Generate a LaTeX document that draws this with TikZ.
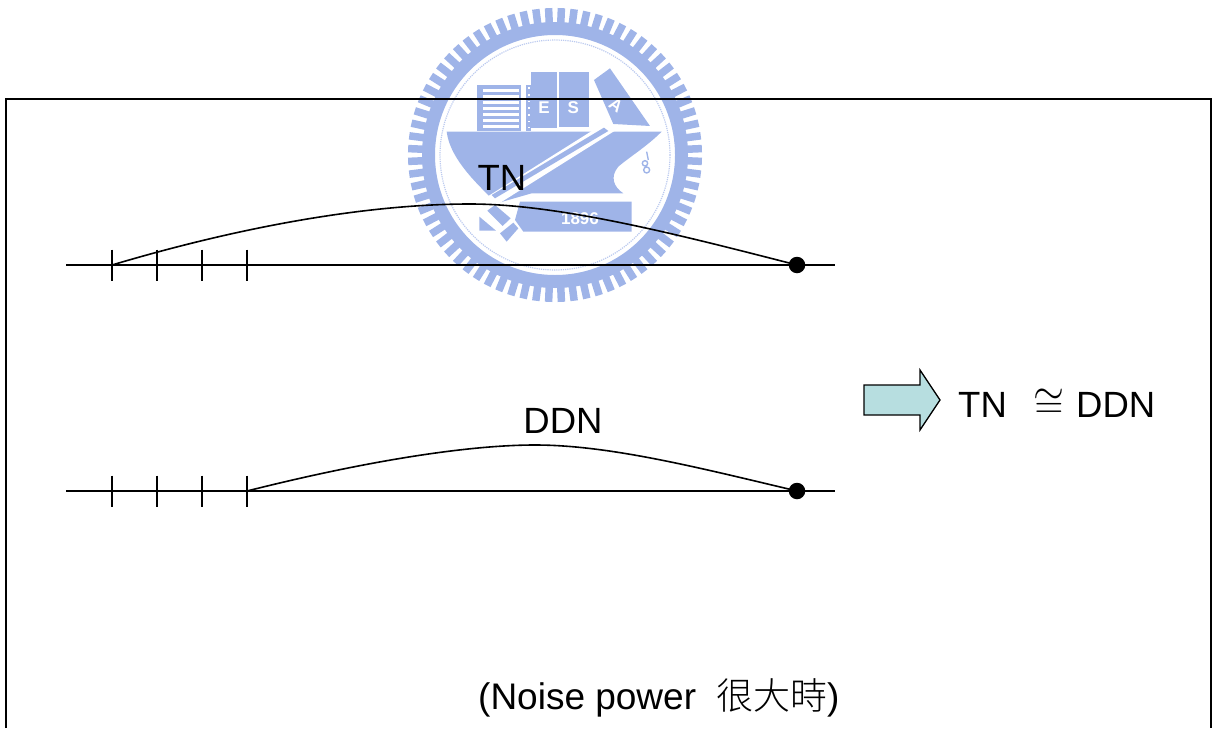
\documentclass[tikz,border=0pt]{standalone}
\usepackage{fontspec}
\usetikzlibrary{calc}
\setmainfont{Liberation Sans}
\newfontfamily\cjk{Noto Sans CJK TC Light}
\definecolor{logoblue}{HTML}{9FB4E8}
\definecolor{arrowfill}{HTML}{B7DEE0}
\tikzset{
  wire/.style={black,line width=1.6pt},
  tick/.style={black,line width=1.3pt},
  lbl/.style={font=\fontsize{36.5}{40}\selectfont,inner sep=0pt,text=black},
  notelbl/.style={font=\fontsize{37}{40}\selectfont,inner sep=0pt,text=black},
  dotnode/.style={circle,fill=black,draw=none,minimum size=16.5pt,inner sep=0pt},
  lg/.style={fill=logoblue,draw=none},
  lgw/.style={fill=white,draw=none},
  lgtext/.style={font=\bfseries\fontsize{17}{17}\selectfont,text=white,inner sep=0pt}
}
\begin{document}
\begin{tikzpicture}[x=1pt,y=-1pt]
\useasboundingbox (0,0) rectangle (1215,728);
% emblem
\foreach \a in {0,5,...,355}{
  \draw[logoblue,line width=7.5pt] ($(555,155)+(\a+2.5:125)$) -- ($(555,155)+(\a+2.5:147)$);
}
\fill[logoblue,even odd rule] (555,155) circle[radius=133] (555,155) circle[radius=120];
\draw[logoblue!70,line width=1.2pt,densely dotted] (555,155) circle[radius=115];
\begin{scope}[shift={(400,0)},x=0.3333pt,y=-0.3333pt]
  % books
  \fill[lg] (230,255) rectangle (362,392);
  \foreach \s in {266,284,302,320,338,356,374}{\fill[lgw] (250,\s) rectangle (358,\s+10);}
  \fill[lg] (378,255) rectangle (392,392);
  \foreach \s in {262,282,302,322,342,362,380}{\fill[lgw] (383,\s) rectangle (389,\s+5);}
  \fill[lg] (392,215) rectangle (470,385);
  \fill[lg] (477,215) rectangle (567,382);
  \fill[lg] (582,240) -- (630,205) -- (750,378) -- (640,372) -- cycle;
  % hull
  \fill[lg] (140,395) -- (785,395) .. controls (740,440) and (690,470) .. (655,500)
     .. controls (630,530) and (640,560) .. (670,580) -- (395,580) -- (290,610)
     .. controls (240,560) and (150,480) .. cycle;
  % diagonal strip
  \fill[lgw] (620,365) -- (645,392) -- (290,615) -- (262,590) -- cycle;
  \fill[lg] (612,383) -- (625,393) -- (285,595) -- (275,585) -- cycle;
  % base plate
  \fill[lg] (360,605) -- (695,605) -- (695,695) -- (370,695) -- (345,660) -- cycle;
  \fill[lg] (238,650) -- (288,692) -- (238,692) -- cycle;
  \fill[lg] (300,700) -- (340,668) -- (355,685) -- (320,725) -- cycle;
  \fill[lg] (262,632) -- (285,615) -- (332,655) -- (308,678) -- cycle;
  % hook
  \draw[logoblue,line width=1.4pt] (740,455) -- (745,480) (735,490) circle[radius=8] (740,510) circle[radius=9];
  \node[lgtext] (letterE) at (432,322) {E};
  \node[lgtext] (letterS) at (520,322) {S};
  \node[lgtext,rotate=-35] (letterA) at (648,315) {A};
  \node[lgtext] (year) at (540,655) {1896};
\end{scope}
% frame
\draw[wire] (6,728) -- (6,99) -- (1211,99) -- (1211,728);
% first timeline
\coordinate (a0) at (66,265);
\coordinate (a1) at (835,265);
\coordinate (t1) at (112,265);
\coordinate (t2) at (157,265);
\coordinate (t3) at (202,265);
\coordinate (t4) at (247,265);
\node[dotnode] (d1) at (797,265) {};
\draw[wire] (a0) -- (a1);
\foreach \n in {t1,t2,t3,t4}{\draw[tick] ($(\n)+(0,-15.5)$) -- ($(\n)+(0,15.5)$);}
\coordinate (p1) at (470,204);
\draw[wire] (t1) .. controls (280,215) and (400,204) .. (p1) .. controls (560,204) and (680,235) .. (d1.center);
\node[lbl] (tn) at (502,178) {TN};
% second timeline
\coordinate (b0) at (66,491);
\coordinate (b1) at (835,491);
\coordinate (u1) at (112,491);
\coordinate (u2) at (157,491);
\coordinate (u3) at (202,491);
\coordinate (u4) at (247,491);
\node[dotnode] (d2) at (797,491) {};
\draw[wire] (b0) -- (b1);
\foreach \n in {u1,u2,u3,u4}{\draw[tick] ($(\n)+(0,-15.5)$) -- ($(\n)+(0,15.5)$);}
\coordinate (p2) at (535,445);
\draw[wire] (u4) .. controls (370,460) and (470,445) .. (p2) .. controls (610,445) and (700,468) .. (d2.center);
\node[lbl] (ddn) at (563,421) {DDN};
% block arrow
\draw[black,line width=1.3pt,fill=arrowfill,line join=miter] (864,385) -- (920,385) -- (920,370) -- (940,400) -- (920,430) -- (920,415) -- (864,415) -- cycle;
\node[lbl,anchor=west] (res1) at (958,405) {TN};
\node[lbl] (cong) at (1049,404) {\scalebox{1.6}[1.7]{$\cong$}};
\node[lbl,anchor=west] (res2) at (1076,405) {DDN};
% note
\node[notelbl,anchor=base west] (note) at (478,709) {(Noise power\hspace{20pt}{\cjk 很大時})};
\end{tikzpicture}
\end{document}
